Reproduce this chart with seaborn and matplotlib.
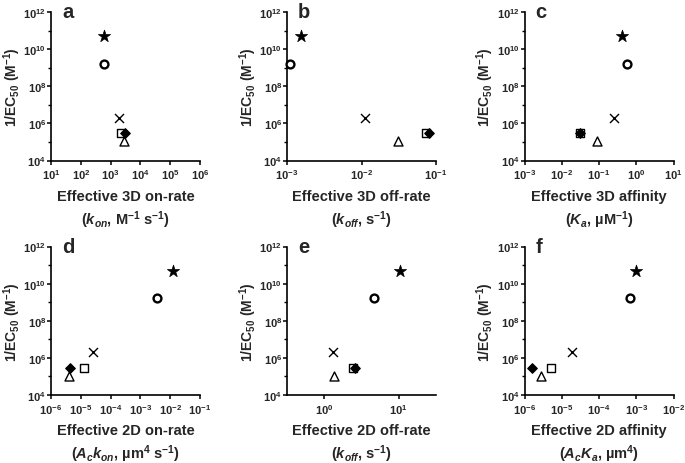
import numpy as np
import pandas as pd
import matplotlib
matplotlib.use("Agg")
import matplotlib.pyplot as plt
import matplotlib.ticker as mticker
import seaborn as sns

sns.set_style("ticks")
plt.rcParams["font.family"] = ["Liberation Sans", "DejaVu Sans"]
plt.rcParams["font.weight"] = "bold"
plt.rcParams["mathtext.fontset"] = "custom"
plt.rcParams["mathtext.rm"] = "Liberation Sans:bold"
plt.rcParams["mathtext.bf"] = "Liberation Sans:bold"
plt.rcParams["mathtext.it"] = "Liberation Sans:italic:bold"
plt.rcParams["mathtext.default"] = "it"

# ---- data (one entry per compound/marker) ----
compounds = ["star", "circle", "cross", "square", "diamond", "triangle"]
inv_ec50 = [5.0e10, 1.6e9, 2.0e6, 3.0e5, 3.0e5, 1.1e5]
kon_3d = [620, 620, 1950, 2200, 3000, 2750]
koff_3d = [1.54e-3, 1.09e-3, 0.0111, 0.073, 0.080, 0.031]
ka_3d = [0.42, 0.55, 0.25, 0.030, 0.030, 0.091]
ackon_2d = [0.0126, 0.0036, 2.6e-5, 1.25e-5, 4.2e-6, 3.9e-6]
koff_2d = [10.4, 4.7, 1.32, 2.4, 2.6, 1.37]
acka_2d = [1.0e-3, 6.8e-4, 1.9e-5, 5.1e-6, 1.6e-6, 2.8e-6]

panel_letters = ["a", "b", "c", "d", "e", "f"]
panel_xlabels = [
    "Effective 3D on-rate\n($k_{on}$, M$^{-1}$ s$^{-1}$)",
    "Effective 3D off-rate\n($k_{off}$, s$^{-1}$)",
    "Effective 3D affinity\n($K_a$, µM$^{-1}$)",
    "Effective 2D on-rate\n($A_ck_{on}$, µm$^4$ s$^{-1}$)",
    "Effective 2D off-rate\n($k_{off}$, s$^{-1}$)",
    "Effective 2D affinity\n($A_cK_a$, µm$^4$)",
]
panel_x = [kon_3d, koff_3d, ka_3d, ackon_2d, koff_2d, acka_2d]
panel_xlims = [(1e1, 1e6), (1e-3, 1e-1), (1e-3, 1e1),
               (1e-6, 1e-1), (10 ** -0.5, 10 ** 1.5), (1e-6, 1e-2)]
ylim = (1e4, 1e12)

# ---- marker styles ----
styles = {
    "star": dict(marker="*", s=85, facecolor="black", edgecolor="black", linewidth=0.5),
    "circle": dict(marker="o", s=32, facecolor="white", edgecolor="black", linewidth=1.7),
    "cross": dict(marker="x", s=42, color="black", linewidth=1.0),
    "square": dict(marker="s", s=38, facecolor="white", edgecolor="black", linewidth=1.0),
    "diamond": dict(marker="D", s=24, facecolor="black", edgecolor="black", linewidth=0.8),
    "triangle": dict(marker="^", s=42, facecolor="white", edgecolor="black", linewidth=1.0),
}
draw_order = ["triangle", "square", "diamond", "cross", "circle", "star"]

W, H = 685, 464
fig = plt.figure(figsize=(W / 100, H / 100), dpi=100)

col_left = [51, 287, 524.5]
row_top = [13, 247.5]
ax_w, ax_h = 149, 148.5

for i in range(6):
    r, c = divmod(i, 3)
    left = col_left[c] / W
    bottom = 1 - (row_top[r] + ax_h) / H
    ax = fig.add_axes([left, bottom, ax_w / W, ax_h / H])
    df = pd.DataFrame({"compound": compounds, "x": panel_x[i], "y": inv_ec50})
    for comp in draw_order:
        sub = df[df["compound"] == comp]
        sns.scatterplot(data=sub, x="x", y="y", ax=ax, clip_on=False,
                        zorder=3, legend=False, **styles[comp])
    ax.set_xscale("log")
    ax.set_yscale("log")
    ax.set_xlim(*panel_xlims[i])
    ax.set_ylim(*ylim)
    sns.despine(ax=ax)
    for sp in ("left", "bottom"):
        ax.spines[sp].set_linewidth(1.2)
        ax.spines[sp].set_color("black")

    ax.yaxis.set_major_locator(mticker.FixedLocator([1e4, 1e6, 1e8, 1e10, 1e12]))
    ax.yaxis.set_minor_locator(mticker.FixedLocator([1e5, 1e7, 1e9, 1e11]))
    ax.yaxis.set_major_formatter(mticker.LogFormatterSciNotation())
    ax.yaxis.set_minor_formatter(mticker.NullFormatter())
    ax.xaxis.set_major_locator(mticker.LogLocator(base=10, numticks=20))
    ax.xaxis.set_minor_locator(mticker.NullLocator())
    ax.xaxis.set_major_formatter(mticker.LogFormatterSciNotation())
    ax.tick_params(axis="both", which="major", direction="out", length=3,
                   width=1.1, labelsize=8, color="black")
    ax.tick_params(axis="x", which="major", pad=2)
    ax.tick_params(axis="y", which="major", pad=0.5)
    ax.tick_params(axis="y", which="minor", direction="out", length=2.5,
                   width=1.0, color="black")
    for lab in ax.get_xticklabels() + ax.get_yticklabels():
        lab.set_fontweight("bold")

    ax.set_ylabel("1/EC$_{50}$ (M$^{-1}$)", fontsize=10, fontweight="bold")
    ax.yaxis.set_label_coords(-0.19, 0.5)
    ax.set_xlabel(panel_xlabels[i], fontsize=10.5, fontweight="bold",
                  linespacing=1.35, va="top")
    ax.xaxis.set_label_coords(0.5, -0.19)
    ax.text(0.075, 0.965, panel_letters[i], transform=ax.transAxes,
            fontsize=14.5, fontweight="bold", ha="left", va="baseline")

fig.savefig("out.png", dpi=100, facecolor="white")
